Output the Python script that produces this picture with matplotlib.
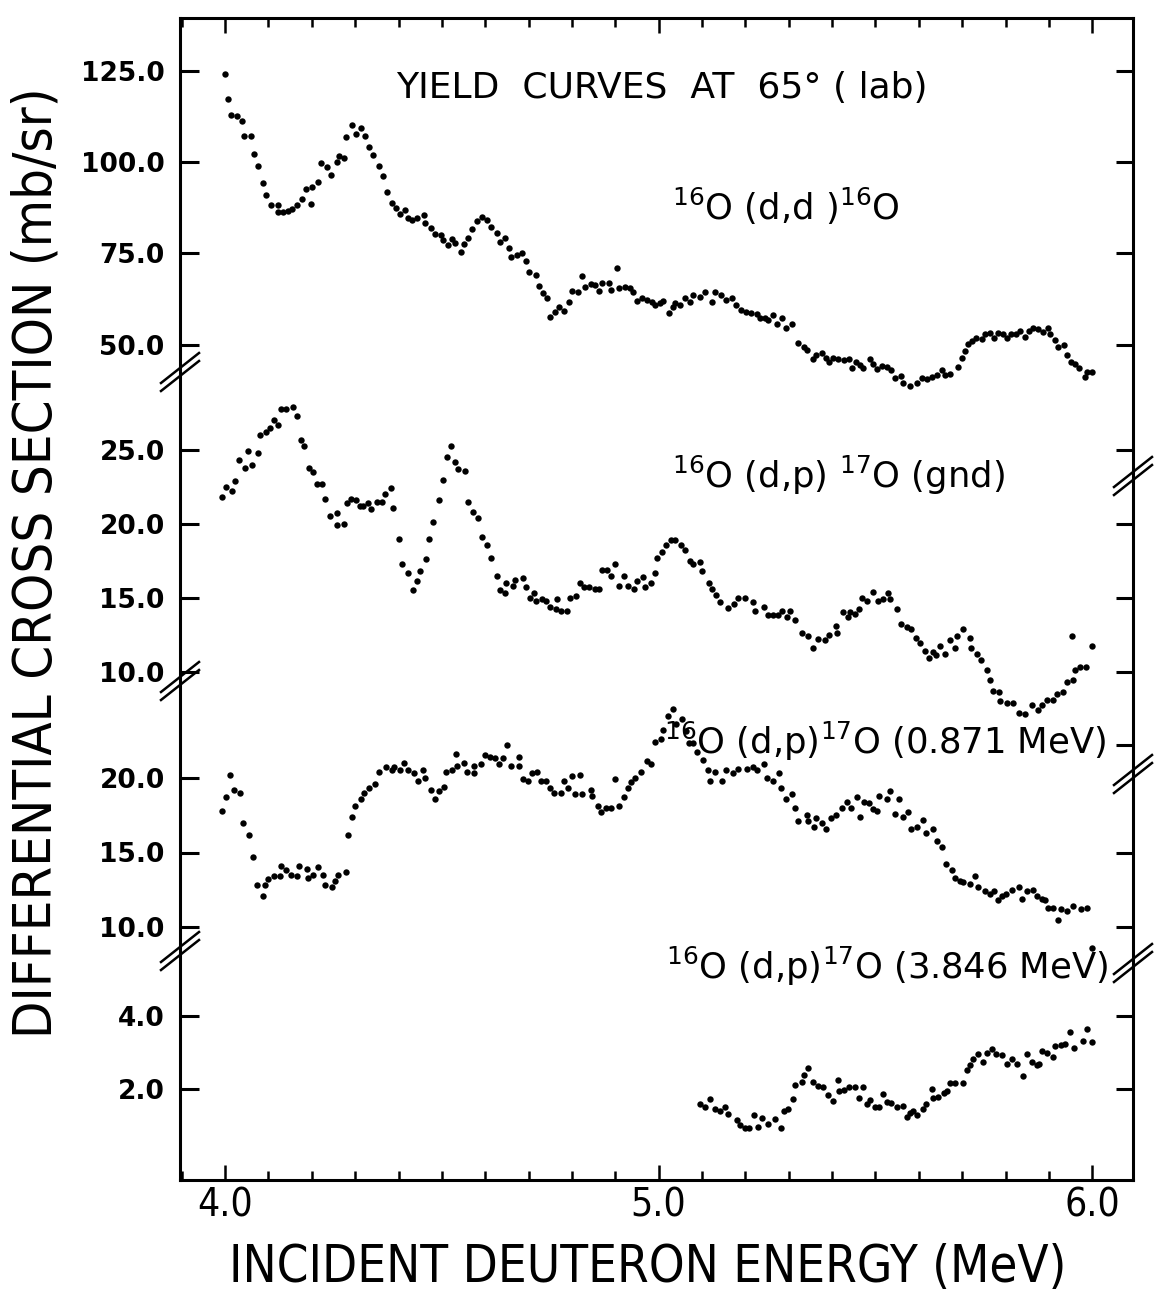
import matplotlib.pyplot as plt
from matplotlib.ticker import MultipleLocator

# ------------------------------------------------------------------
# Measured yields at 65 deg (lab): energy in MeV, cross section in mb/sr
# ------------------------------------------------------------------
dd_energy = [
    4.000, 4.007, 4.013, 4.028, 4.039, 4.044, 4.059, 4.067, 4.076, 4.088,
    4.095, 4.105, 4.121, 4.122, 4.134, 4.144, 4.154, 4.167, 4.178, 4.187,
    4.197, 4.201, 4.214, 4.221, 4.235, 4.245, 4.257, 4.263, 4.274, 4.280,
    4.293, 4.303, 4.313, 4.322, 4.332, 4.341, 4.355, 4.365, 4.373, 4.386,
    4.394, 4.403, 4.414, 4.421, 4.432, 4.443, 4.458, 4.462, 4.474, 4.484,
    4.499, 4.503, 4.513, 4.524, 4.531, 4.543, 4.550, 4.560, 4.570, 4.581,
    4.593, 4.605, 4.613, 4.626, 4.633, 4.645, 4.654, 4.660, 4.674, 4.685,
    4.693, 4.700, 4.716, 4.723, 4.733, 4.743, 4.749, 4.762, 4.770, 4.781,
    4.793, 4.800, 4.814, 4.823, 4.831, 4.845, 4.853, 4.862, 4.870, 4.885,
    4.891, 4.905, 4.908, 4.922, 4.933, 4.941, 4.950, 4.961, 4.974, 4.984,
    4.992, 5.002, 5.011, 5.024, 5.032, 5.038, 5.049, 5.061, 5.072, 5.080,
    5.095, 5.107, 5.122, 5.130, 5.143, 5.155, 5.168, 5.178, 5.191, 5.201,
    5.214, 5.226, 5.234, 5.245, 5.253, 5.263, 5.272, 5.284, 5.293, 5.307,
    5.322, 5.335, 5.343, 5.355, 5.364, 5.376, 5.387, 5.394, 5.403, 5.414,
    5.427, 5.440, 5.445, 5.455, 5.464, 5.472, 5.487, 5.495, 5.504, 5.514,
    5.526, 5.537, 5.545, 5.558, 5.564, 5.580, 5.595, 5.607, 5.618, 5.630,
    5.641, 5.653, 5.660, 5.673, 5.691, 5.699, 5.706, 5.714, 5.722, 5.733,
    5.745, 5.753, 5.764, 5.773, 5.783, 5.795, 5.803, 5.812, 5.824, 5.833,
    5.845, 5.853, 5.863, 5.876, 5.887, 5.899, 5.903, 5.914, 5.922, 5.935,
    5.941, 5.950, 5.960, 5.970, 5.983, 5.987, 5.999,
]
dd_sigma = [
    124.0, 117.2, 113.0, 112.6, 111.3, 107.1, 107.1, 102.2, 98.8, 94.3,
    90.9, 88.3, 88.3, 86.4, 86.3, 86.7, 87.1, 88.3, 89.9, 92.6,
    88.5, 93.2, 94.6, 99.6, 98.6, 96.4, 100.1, 101.7, 101.0, 106.9,
    110.1, 107.8, 109.2, 107.1, 104.2, 101.9, 98.8, 96.1, 91.9, 88.9,
    87.3, 85.7, 86.9, 84.6, 84.2, 84.6, 85.4, 83.2, 82.0, 80.3,
    80.0, 78.6, 77.4, 78.8, 77.9, 75.5, 77.7, 79.1, 81.7, 83.9,
    85.0, 84.1, 82.3, 80.7, 78.2, 79.1, 76.5, 74.1, 74.5, 75.2,
    72.9, 69.8, 69.1, 66.2, 64.1, 62.7, 57.7, 59.0, 60.2, 59.3,
    61.8, 64.7, 64.5, 68.8, 65.9, 66.6, 66.3, 64.8, 66.8, 67.0,
    65.0, 71.1, 65.6, 65.7, 65.6, 64.5, 62.0, 62.9, 62.2, 61.8,
    61.0, 61.3, 62.0, 58.6, 60.4, 61.3, 61.0, 62.7, 61.6, 63.6,
    63.0, 64.5, 61.8, 64.4, 63.6, 62.2, 62.7, 60.9, 59.5, 59.0,
    58.6, 58.3, 57.4, 57.2, 56.8, 58.1, 55.7, 57.2, 54.5, 55.8,
    50.6, 49.4, 48.5, 46.1, 47.2, 47.6, 46.3, 45.2, 46.3, 46.1,
    45.8, 46.1, 43.5, 45.4, 44.4, 43.5, 46.1, 44.6, 43.3, 44.2,
    44.0, 43.1, 40.8, 41.4, 39.4, 38.6, 39.4, 41.0, 40.6, 41.2,
    41.7, 43.1, 41.7, 41.9, 44.0, 46.3, 48.3, 50.1, 51.0, 51.7,
    51.6, 52.8, 53.1, 51.9, 53.1, 52.8, 51.7, 52.8, 52.8, 53.7,
    52.2, 53.7, 54.7, 54.3, 53.6, 54.5, 52.8, 51.3, 49.5, 49.9,
    47.2, 45.2, 44.6, 43.5, 41.2, 42.6, 42.6,
]

gnd_energy = [
    3.994, 4.003, 4.016, 4.022, 4.032, 4.045, 4.052, 4.062, 4.076, 4.081,
    4.094, 4.103, 4.112, 4.122, 4.130, 4.141, 4.157, 4.165, 4.174, 4.182,
    4.193, 4.203, 4.213, 4.224, 4.230, 4.243, 4.257, 4.259, 4.274, 4.281,
    4.290, 4.301, 4.311, 4.318, 4.330, 4.337, 4.351, 4.363, 4.368, 4.382,
    4.388, 4.400, 4.408, 4.422, 4.434, 4.442, 4.449, 4.464, 4.470, 4.480,
    4.494, 4.503, 4.512, 4.522, 4.530, 4.537, 4.553, 4.560, 4.572, 4.583,
    4.593, 4.605, 4.613, 4.626, 4.634, 4.645, 4.649, 4.663, 4.668, 4.686,
    4.695, 4.704, 4.712, 4.718, 4.731, 4.740, 4.750, 4.763, 4.766, 4.774,
    4.789, 4.795, 4.809, 4.818, 4.828, 4.839, 4.853, 4.863, 4.869, 4.881,
    4.889, 4.899, 4.908, 4.920, 4.930, 4.943, 4.949, 4.964, 4.968, 4.983,
    4.991, 4.997, 5.007, 5.017, 5.029, 5.038, 5.051, 5.061, 5.072, 5.080,
    5.095, 5.099, 5.115, 5.122, 5.132, 5.141, 5.161, 5.174, 5.182, 5.199,
    5.218, 5.222, 5.243, 5.253, 5.264, 5.276, 5.284, 5.295, 5.304, 5.314,
    5.330, 5.345, 5.355, 5.368, 5.384, 5.394, 5.409, 5.411, 5.426, 5.436,
    5.441, 5.453, 5.463, 5.468, 5.480, 5.494, 5.505, 5.517, 5.528, 5.534,
    5.549, 5.560, 5.572, 5.583, 5.594, 5.603, 5.614, 5.624, 5.632, 5.640,
    5.649, 5.660, 5.673, 5.684, 5.687, 5.703, 5.718, 5.720, 5.735, 5.743,
    5.758, 5.764, 5.772, 5.786, 5.787, 5.803, 5.818, 5.830, 5.845, 5.860,
    5.876, 5.883, 5.895, 5.910, 5.918, 5.933, 5.941, 5.953, 5.956, 5.960,
    5.972, 5.986, 5.999,
]
gnd_sigma = [
    21.8, 22.5, 22.2, 22.9, 24.3, 23.8, 24.9, 24.0, 24.8, 26.0,
    26.2, 26.5, 27.0, 26.7, 27.8, 27.8, 27.9, 27.3, 25.7, 25.3,
    23.8, 23.5, 22.7, 22.7, 21.7, 20.5, 20.7, 19.9, 20.0, 21.4,
    21.7, 21.6, 21.2, 21.2, 21.4, 21.0, 21.5, 21.5, 22.0, 22.4,
    21.1, 19.0, 17.3, 16.7, 15.5, 16.1, 16.8, 17.6, 19.0, 20.1,
    21.6, 23.0, 24.5, 25.3, 24.2, 23.7, 23.6, 21.5, 20.8, 20.4,
    19.1, 18.6, 17.7, 16.5, 15.5, 15.3, 16.0, 15.8, 16.2, 16.3,
    15.7, 15.0, 15.3, 14.8, 14.9, 14.8, 14.4, 14.2, 14.9, 14.1,
    14.1, 15.0, 15.1, 16.0, 15.7, 15.7, 15.6, 15.6, 16.9, 16.9,
    16.5, 17.3, 15.8, 16.5, 15.8, 15.6, 16.1, 16.4, 15.7, 16.0,
    16.7, 17.7, 18.1, 18.6, 18.9, 18.9, 18.6, 18.2, 17.5, 17.3,
    17.4, 16.8, 16.0, 15.6, 15.2, 14.7, 14.3, 14.6, 15.0, 15.0,
    14.7, 14.1, 14.4, 13.8, 13.8, 13.8, 14.1, 13.7, 14.1, 13.5,
    12.6, 12.4, 11.6, 12.2, 12.1, 12.5, 13.1, 12.6, 14.0, 13.7,
    14.0, 13.9, 14.2, 15.0, 14.8, 15.4, 14.8, 14.9, 15.3, 14.9,
    14.2, 13.2, 13.0, 12.9, 12.3, 11.9, 11.4, 10.9, 11.3, 11.1,
    11.7, 11.2, 12.1, 11.6, 12.4, 12.9, 12.3, 11.6, 11.2, 10.8,
    10.1, 9.4, 8.7, 8.6, 8.0, 7.9, 7.9, 7.2, 7.1, 7.7,
    7.4, 7.7, 8.1, 8.1, 8.5, 8.6, 9.3, 12.4, 9.4, 10.1,
    10.3, 10.3, 11.7,
]

ex871_energy = [
    3.992, 4.002, 4.012, 4.021, 4.035, 4.042, 4.054, 4.065, 4.074, 4.088,
    4.091, 4.099, 4.112, 4.127, 4.129, 4.141, 4.153, 4.165, 4.170, 4.188,
    4.191, 4.203, 4.214, 4.226, 4.230, 4.247, 4.253, 4.261, 4.278, 4.284,
    4.293, 4.299, 4.314, 4.320, 4.332, 4.345, 4.354, 4.372, 4.384, 4.390,
    4.403, 4.413, 4.422, 4.435, 4.444, 4.457, 4.462, 4.474, 4.484, 4.493,
    4.505, 4.510, 4.524, 4.532, 4.536, 4.550, 4.557, 4.574, 4.575, 4.590,
    4.599, 4.610, 4.622, 4.631, 4.641, 4.651, 4.659, 4.678, 4.679, 4.687,
    4.699, 4.709, 4.720, 4.728, 4.740, 4.749, 4.759, 4.775, 4.782, 4.790,
    4.799, 4.808, 4.818, 4.824, 4.843, 4.846, 4.860, 4.866, 4.879, 4.891,
    4.900, 4.909, 4.919, 4.929, 4.937, 4.946, 4.960, 4.972, 4.983, 4.991,
    5.005, 5.009, 5.022, 5.032, 5.039, 5.053, 5.062, 5.071, 5.080, 5.089,
    5.103, 5.113, 5.118, 5.130, 5.147, 5.155, 5.171, 5.184, 5.203, 5.218,
    5.226, 5.243, 5.249, 5.263, 5.278, 5.282, 5.294, 5.307, 5.315, 5.322,
    5.341, 5.344, 5.358, 5.364, 5.376, 5.387, 5.397, 5.409, 5.422, 5.434,
    5.444, 5.458, 5.464, 5.474, 5.486, 5.495, 5.503, 5.509, 5.526, 5.534,
    5.545, 5.554, 5.564, 5.576, 5.581, 5.595, 5.609, 5.617, 5.632, 5.643,
    5.653, 5.663, 5.676, 5.683, 5.695, 5.703, 5.717, 5.730, 5.737, 5.753,
    5.764, 5.773, 5.783, 5.791, 5.800, 5.814, 5.830, 5.837, 5.849, 5.864,
    5.872, 5.883, 5.891, 5.899, 5.910, 5.922, 5.927, 5.941, 5.955, 5.973,
    5.987, 5.999,
]
ex871_sigma = [
    17.8, 18.7, 20.2, 19.2, 19.0, 17.0, 16.2, 14.7, 12.8, 12.1,
    12.8, 13.2, 13.4, 13.4, 14.1, 13.8, 13.5, 13.4, 14.1, 13.9,
    13.3, 13.5, 14.0, 13.5, 12.8, 12.7, 13.1, 13.5, 13.7, 16.2,
    17.4, 18.1, 18.6, 19.0, 19.3, 19.6, 20.4, 20.7, 20.5, 20.7,
    20.5, 21.0, 20.5, 20.3, 19.8, 20.5, 20.0, 19.2, 18.6, 19.1,
    19.4, 20.4, 20.5, 21.6, 20.8, 21.0, 20.4, 20.8, 20.3, 20.9,
    21.5, 21.4, 21.3, 20.9, 21.3, 22.2, 20.8, 21.4, 20.8, 19.9,
    19.8, 20.3, 20.4, 19.8, 19.8, 19.3, 19.0, 19.0, 19.8, 19.3,
    20.1, 18.9, 20.2, 18.9, 19.2, 18.8, 18.1, 17.7, 18.0, 18.0,
    19.9, 18.1, 18.7, 19.3, 19.7, 20.0, 20.4, 21.1, 20.9, 22.4,
    22.6, 23.2, 24.1, 24.6, 23.6, 23.9, 23.1, 22.3, 22.3, 21.7,
    21.2, 20.5, 19.8, 20.4, 19.8, 20.5, 20.3, 20.6, 20.6, 20.7,
    20.5, 20.9, 20.0, 19.8, 20.3, 19.3, 18.6, 18.9, 18.0, 17.1,
    17.5, 17.1, 16.7, 17.3, 17.0, 16.6, 17.3, 17.5, 18.0, 18.4,
    18.0, 18.7, 17.4, 18.4, 18.3, 17.9, 17.8, 18.8, 18.6, 19.1,
    17.6, 18.6, 17.4, 17.7, 16.6, 16.7, 17.2, 16.3, 16.6, 15.8,
    15.4, 14.2, 13.8, 13.3, 13.1, 13.0, 12.9, 13.4, 12.7, 12.4,
    12.2, 12.4, 11.8, 12.1, 12.2, 12.5, 12.7, 11.9, 12.4, 12.5,
    12.1, 11.9, 11.8, 11.3, 11.3, 10.5, 11.2, 11.1, 11.4, 11.2,
    11.3, 8.6,
]

ex3846_energy = [
    5.095, 5.107, 5.118, 5.130, 5.141, 5.153, 5.161, 5.180, 5.188, 5.199,
    5.209, 5.220, 5.230, 5.238, 5.253, 5.268, 5.281, 5.289, 5.299, 5.309,
    5.314, 5.330, 5.335, 5.345, 5.355, 5.368, 5.378, 5.390, 5.403, 5.414,
    5.417, 5.427, 5.440, 5.453, 5.463, 5.471, 5.480, 5.487, 5.499, 5.509,
    5.518, 5.526, 5.537, 5.549, 5.563, 5.572, 5.580, 5.586, 5.595, 5.610,
    5.617, 5.630, 5.633, 5.645, 5.657, 5.664, 5.673, 5.684, 5.701, 5.710,
    5.718, 5.724, 5.737, 5.747, 5.757, 5.768, 5.779, 5.791, 5.803, 5.814,
    5.826, 5.840, 5.849, 5.860, 5.872, 5.878, 5.883, 5.896, 5.909, 5.914,
    5.927, 5.937, 5.949, 5.958, 5.978, 5.987, 6.000,
]
ex3846_sigma = [
    1.59, 1.52, 1.74, 1.45, 1.42, 1.52, 1.32, 1.15, 1.03, 0.94,
    0.94, 1.31, 0.97, 1.22, 1.04, 1.18, 0.95, 1.40, 1.47, 1.74,
    2.13, 2.20, 2.40, 2.57, 2.20, 2.08, 2.06, 1.84, 1.68, 2.26,
    1.95, 1.99, 2.06, 2.05, 1.76, 2.06, 1.59, 1.72, 1.52, 1.52,
    1.88, 1.65, 1.63, 1.52, 1.54, 1.24, 1.35, 1.42, 1.29, 1.45,
    1.61, 2.02, 1.76, 1.79, 1.91, 1.95, 2.16, 2.17, 2.17, 2.54,
    2.66, 2.82, 2.96, 2.75, 3.00, 3.09, 2.96, 2.93, 2.68, 2.84,
    2.70, 2.36, 2.95, 2.75, 2.66, 2.68, 3.05, 3.00, 2.89, 3.18,
    3.21, 3.23, 3.57, 3.14, 3.32, 3.64, 3.30,
]

x_ticks = [4.0, 5.0, 6.0]
dd_ticks = [125.0, 100.0, 75.0, 50.0]
gnd_ticks = [25.0, 20.0, 15.0, 10.0]
gnd_ticks_right = [25.0, 20.0, 15.0, 10.0, 5.0]
ex871_ticks = [20.0, 15.0, 10.0]
ex871_ticks_right = [15.0, 10.0]
ex3846_ticks = [4.0, 2.0]

title = "YIELD  CURVES  AT  65\u00b0 ( lab)"
dd_label = r"$^{16}$O (d,d )$^{16}$O"
gnd_label = r"$^{16}$O (d,p) $^{17}$O (gnd)"
ex871_label = r"$^{16}$O (d,p)$^{17}$O (0.871 MeV)"
ex3846_label = r"$^{16}$O (d,p)$^{17}$O (3.846 MeV)"

# ------------------------------------------------------------------
# Layout (pixels of the 1163 x 1305 canvas)
# ------------------------------------------------------------------
W, H = 1163, 1305
LEFT, TOP, RIGHT, BOTTOM = 180, 18, 1133, 1180
XLIM = (3.896, 6.094)

plt.rcParams['font.family'] = ['DejaVu Sans']
plt.rcParams['mathtext.fontset'] = 'dejavusans'
plt.rcParams['mathtext.default'] = 'regular'

fig = plt.figure(figsize=(W / 100, H / 100), dpi=100)
rect = [LEFT / W, 1 - BOTTOM / H, (RIGHT - LEFT) / W, (BOTTOM - TOP) / H]


def fx(px):
    return px / W


def fy(py):
    return 1 - py / H


# frame axes: spines and energy ticks
ax = fig.add_axes(rect)
ax.set_xlim(*XLIM)
ax.set_ylim(0, 1)
ax.set_yticks([])
for sp in ax.spines.values():
    sp.set_linewidth(2.2)
ax.set_xticks(x_ticks, labels=[f"{t:.1f}" for t in x_ticks])
ax.xaxis.set_minor_locator(MultipleLocator(0.1))
ax.tick_params(axis='x', which='both', direction='in', top=True, bottom=True, width=1.8)
ax.tick_params(axis='x', which='major', length=11, pad=5, labelsize=28)
ax.tick_params(axis='x', which='minor', length=6.5)
for lab in ax.get_xticklabels():
    lab.set_fontstretch('condensed')


def seg_limits(a, b):
    # two (value, pixel row) anchors -> y limits spanning the frame
    (va, ra), (vb, rb) = a, b
    ppu = (rb - ra) / (va - vb)
    row0 = ra + va * ppu
    return (row0 - BOTTOM) / ppu, (row0 - TOP) / ppu


segments = [
    (dd_energy, dd_sigma, ((125.0, 70.7), (50.0, 344.7)), dd_ticks, dd_ticks),
    (gnd_energy, gnd_sigma, ((25.0, 450.0), (10.0, 671.5)), gnd_ticks, gnd_ticks_right),
    (ex871_energy, ex871_sigma, ((20.0, 777.7), (10.0, 927.3)), ex871_ticks, ex871_ticks_right),
    (ex3846_energy, ex3846_sigma, ((4.0, 1016.0), (2.0, 1089.3)), ex3846_ticks, ex3846_ticks),
]

for energy, sigma, anchors, lticks, rticks in segments:
    sub = fig.add_axes(rect)
    sub.patch.set_visible(False)
    for sp in sub.spines.values():
        sp.set_visible(False)
    sub.set_xlim(*XLIM)
    sub.set_ylim(*seg_limits(*anchors))
    sub.xaxis.set_visible(False)
    sub.plot(energy, sigma, 'o', color='black', markersize=4.6, markeredgewidth=0, clip_on=False)
    sub.set_yticks(lticks, labels=[f"{t:.1f}" for t in lticks])
    sub.tick_params(axis='y', direction='in', length=14, width=2.2, pad=11, labelsize=19)
    for lab in sub.get_yticklabels():
        lab.set_fontweight('bold')

    tw = sub.twinx()
    for sp in tw.spines.values():
        sp.set_visible(False)
    tw.set_ylim(sub.get_ylim())
    tw.set_yticks(rticks)
    tw.tick_params(axis='y', direction='in', length=12, width=2.2, labelright=False)

# axis break marks "//" across the left and right spines
for xs, row in [(LEFT, 372), (LEFT, 681), (LEFT, 951), (RIGHT, 476), (RIGHT, 774), (RIGHT, 963)]:
    for off in (-4, 4):
        fig.add_artist(plt.Line2D([fx(xs - 19), fx(xs + 19)],
                                  [fy(row + off + 15), fy(row + off - 15)],
                                  color='black', linewidth=1.8))

# texts
fig.text(fx(396), fy(98), title, fontsize=26, ha='left', va='baseline')
fig.text(fx(672), fy(220), dd_label, fontsize=25.5, ha='left', va='baseline')
fig.text(fx(672), fy(488), gnd_label, fontsize=25.5, ha='left', va='baseline')
fig.text(fx(1106), fy(754), ex871_label, fontsize=25.5, ha='right', va='baseline')
fig.text(fx(1108), fy(979), ex3846_label, fontsize=25.5, ha='right', va='baseline')

fig.text(fx(37), fy(563), "DIFFERENTIAL CROSS SECTION (mb/sr)", rotation=90,
         fontsize=39, fontstretch='condensed', ha='center', va='center')
fig.text(fx(648), fy(1268), "INCIDENT DEUTERON ENERGY (MeV)",
         fontsize=36.5, fontstretch='condensed', ha='center', va='center')

fig.savefig('out.png', dpi=100)
